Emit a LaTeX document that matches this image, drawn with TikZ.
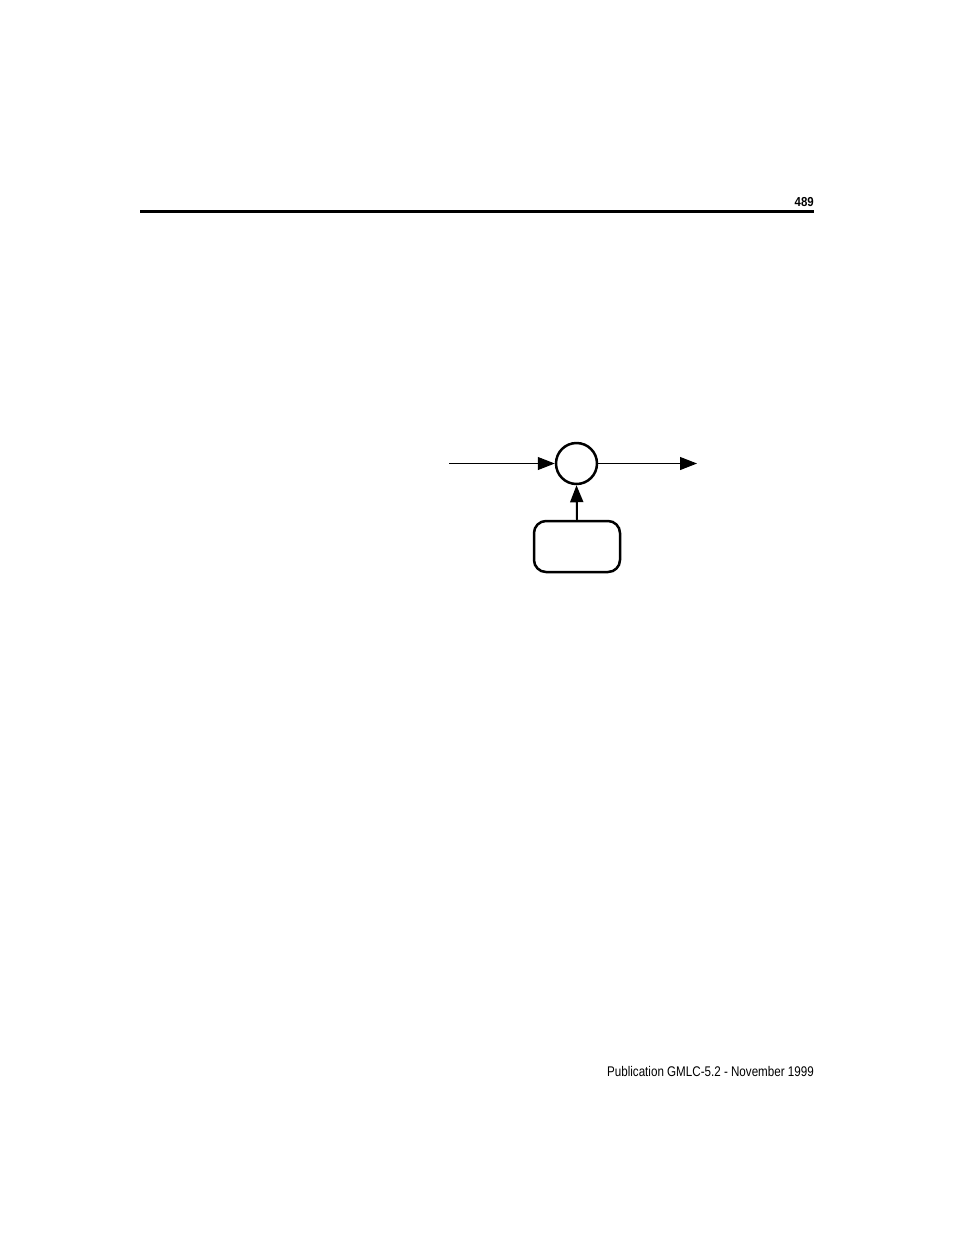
\documentclass[tikz,border=0pt]{standalone}
\usepackage{fontspec}
\setmainfont{Liberation Sans}[FakeStretch=0.83]
\newfontfamily\pagenumfont{Liberation Sans}[FakeStretch=0.88]
\usetikzlibrary{arrows.meta}
\begin{document}
\begin{tikzpicture}[x=1pt,y=-1pt,
  conn/.style={line width=1pt,-{Triangle[length=17pt,width=13pt]}},
  sumnode/.style={circle,draw,line width=2.5pt,minimum size=41pt,inner sep=0pt},
  boxnode/.style={rounded corners=12pt,draw,line width=2.5pt,minimum width=86pt,minimum height=51pt,inner sep=0pt},
  pagetext/.style={inner sep=0pt,anchor=base east}]
\useasboundingbox (0,0) rectangle (954,1235);
\draw[line width=2.5pt] (140,211.5) -- (814,211.5);
\node[pagetext,font=\pagenumfont\fontsize{13}{15}\selectfont\bfseries] (pg) at (814,206) {489};
\node[pagetext,font=\fontsize{14}{16}\selectfont] (ft) at (814,1076) {Publication GMLC-5.2 - November 1999};
\node[sumnode] (sum) at (576.5,463.5) {};
\node[boxnode] (box) at (577,546.5) {};
\coordinate (in) at (449,463.5);
\coordinate (out) at (697,463.5);
\draw[conn] (in) -- (sum.west);
\draw[conn] (sum.east) -- (out);
\draw[conn,line width=2pt] (box.north) -- (sum.south);
\end{tikzpicture}
\end{document}
